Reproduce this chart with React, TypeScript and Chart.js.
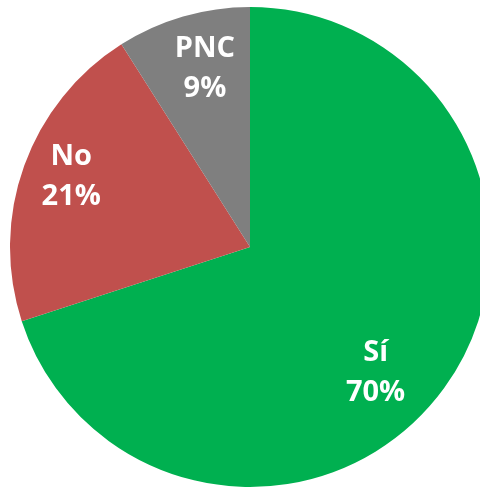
import React, { useEffect, useRef } from "react";
import { Chart, registerables } from "chart.js";

Chart.register(...registerables);

const categories = ["Sí", "No", "PNC"];
const values = [70, 21, 9];
const percentLabels = ["70%", "21%", "9%"];
const colors = ["#00B050", "#C0504D", "#7F7F7F"];

// label placement per slice: radial fraction of radius and angle shift (degrees)
const labelRadial = [0.74, 0.8, 0.765];
const labelAngleShift = [9, 1.6, 2];

const labelPlugin = {
  id: "sliceLabels",
  afterDatasetsDraw(chart: any) {
    const ctx = chart.ctx;
    const meta = chart.getDatasetMeta(0);
    ctx.save();
    ctx.fillStyle = "#FFFFFF";
    ctx.font = "bold 29px 'Open Sans'";
    ctx.textAlign = "center";
    ctx.textBaseline = "middle";
    meta.data.forEach((arc: any, i: number) => {
      const p = arc.getProps(["x", "y", "startAngle", "endAngle", "outerRadius"], true);
      const mid = (p.startAngle + p.endAngle) / 2 + (labelAngleShift[i] * Math.PI) / 180;
      const d = p.outerRadius * labelRadial[i];
      const cx = p.x + Math.cos(mid) * d;
      const cy = p.y + Math.sin(mid) * d;
      ctx.fillText(categories[i], cx, cy - 20);
      ctx.fillText(percentLabels[i], cx, cy + 20);
    });
    ctx.restore();
  },
};

export default function App() {
  const ref = useRef<HTMLCanvasElement>(null);
  useEffect(() => {
    document.body.style.margin = "0";
    document.body.style.overflow = "hidden";
    const chart = new Chart(ref.current!, {
      type: "pie",
      data: {
        labels: categories,
        datasets: [
          {
            data: values,
            backgroundColor: colors,
            borderWidth: 0,
          },
        ],
      },
      options: {
        responsive: false,
        animation: false,
        layout: { padding: { left: 10, right: 10, top: 7, bottom: 1 } },
        plugins: {
          legend: { display: false },
          tooltip: { enabled: false },
        },
      },
      plugins: [labelPlugin],
    });
    return () => chart.destroy();
  }, []);
  return (
    <div style={{ position: "fixed", left: 0, top: 0, width: 500, height: 488 }}>
      <canvas ref={ref} width={500} height={488} style={{ width: 500, height: 488 }} />
    </div>
  );
}
